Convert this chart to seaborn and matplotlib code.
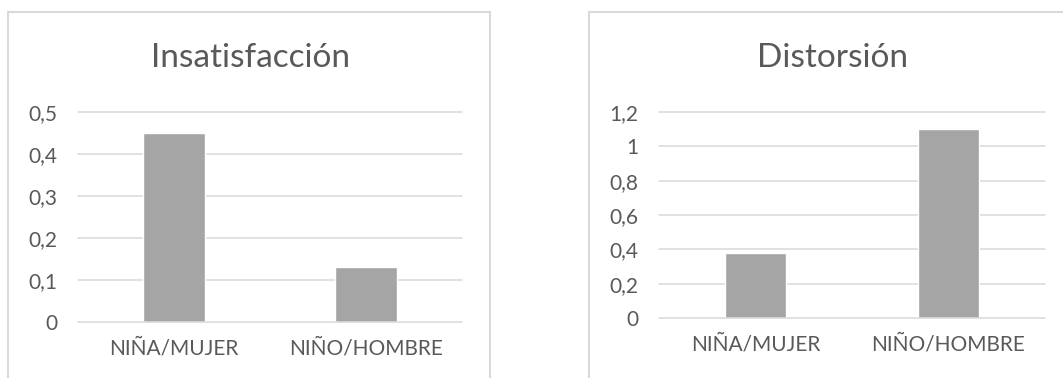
import matplotlib
matplotlib.use("Agg")
import matplotlib.pyplot as plt
from matplotlib.patches import Rectangle
from matplotlib.ticker import FuncFormatter
import seaborn as sns
import pandas as pd

# Data
categorias = ["NIÑA/MUJER", "NIÑO/HOMBRE"]
insatisfaccion = [0.45, 0.13]
distorsion = [0.38, 1.10]
ticks_insatisfaccion = [0, 0.1, 0.2, 0.3, 0.4, 0.5]
ticks_distorsion = [0, 0.2, 0.4, 0.6, 0.8, 1.0, 1.2]

sns.set_theme(style="white")
plt.rcParams["font.family"] = ["Lato", "DejaVu Sans"]

W, H = 1063, 378
fig = plt.figure(figsize=(W / 100, H / 100), dpi=100)
fig.patch.set_facecolor("white")

TEXT = "#595959"
GRID = "#d9d9d9"
BAR = "#a5a5a5"
BORDER = "#d9d9d9"


def px_box(x0, y_top, x1, y_bottom):
    """Figure-fraction rectangle from pixel coords (origin top-left)."""
    return [x0 / W, 1 - y_bottom / H, (x1 - x0) / W, (y_bottom - y_top) / H]


def comma_fmt(v, _):
    s = f"{v:.1f}".rstrip("0").rstrip(".")
    return s.replace(".", ",")


# Chart frames
for x0, x1 in [(8, 490), (589, 1075)]:
    fig.patches.append(Rectangle((x0 / W, -0.05), (x1 - x0) / W, 1 - 12 / H + 0.05,
                                 transform=fig.transFigure, fill=False,
                                 edgecolor=BORDER, linewidth=1.5, zorder=0))


def panel(box, values, ticks, title, title_x):
    ax = fig.add_axes(px_box(*box))
    df = pd.DataFrame({"cat": categorias, "val": values})
    sns.barplot(data=df, x="cat", y="val", color=BAR, saturation=1,
                width=0.32, ax=ax, zorder=2)
    ax.set_ylim(ticks[0], ticks[-1])
    ax.set_xlim(-0.5, 1.5)
    ax.set_yticks(ticks)
    ax.yaxis.set_major_formatter(FuncFormatter(comma_fmt))
    for t in ticks:
        ax.axhline(t, color=GRID, linewidth=1.1, zorder=3 if t == 0 else 1,
                   clip_on=False)
    for s in ax.spines.values():
        s.set_visible(False)
    ax.set_xlabel("")
    ax.set_ylabel("")
    ax.tick_params(axis="y", length=0, pad=15, labelsize=15, labelcolor=TEXT)
    ax.tick_params(axis="x", length=0, pad=12, labelsize=15, labelcolor=TEXT)
    ax.set_facecolor("none")
    fig.text(title_x / W, 1 - 58 / H, title, ha="center", va="center",
             fontsize=24, color=TEXT)
    return ax


panel((78, 112, 462, 322), insatisfaccion, ticks_insatisfaccion,
      "Insatisfacción", 250)
panel((659, 112, 1045, 318), distorsion, ticks_distorsion,
      "Distorsión", 832)

fig.savefig("out.png", dpi=100, facecolor="white")
